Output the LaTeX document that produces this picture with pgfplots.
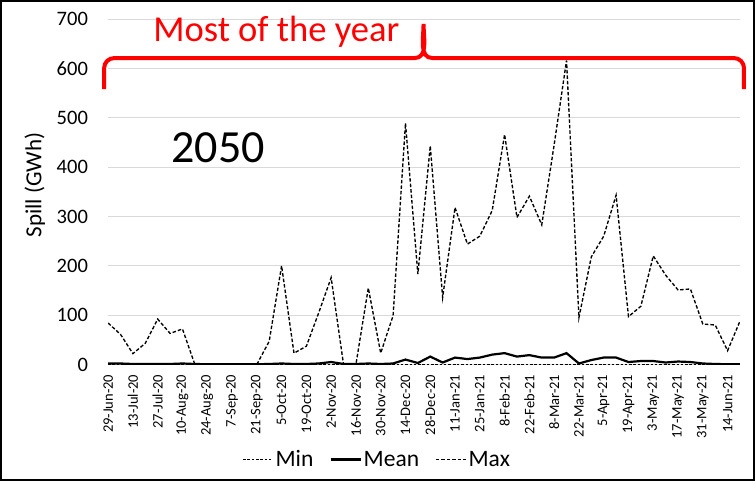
\documentclass[border=0pt]{standalone}
\usepackage{fontspec}
\setmainfont{Carlito}
\usepackage{pgfplots}
\pgfplotsset{compat=1.18}
\definecolor{gridgray}{HTML}{D9D9D9}
\begin{document}
\begin{tikzpicture}
\begin{axis}[
  name=ax, at={(0,0)}, anchor=south west,
  width=631pt, height=345pt, scale only axis,
  xmin=0, xmax=51, ymin=0, ymax=700,
  ytick={0,100,...,700},
  xtick={0,2,...,50},
  xticklabels={29-Jun-20,13-Jul-20,27-Jul-20,10-Aug-20,24-Aug-20,7-Sep-20,21-Sep-20,5-Oct-20,19-Oct-20,2-Nov-20,16-Nov-20,30-Nov-20,14-Dec-20,28-Dec-20,11-Jan-21,25-Jan-21,8-Feb-21,22-Feb-21,8-Mar-21,22-Mar-21,5-Apr-21,19-Apr-21,3-May-21,17-May-21,31-May-21,14-Jun-21},
  /pgf/number format/assume math mode=true,
  major tick length=0pt,
  axis x line=bottom, axis y line=left,
  x axis line style={draw=gridgray, -},
  y axis line style={draw=none},
  ymajorgrids, grid style={gridgray, line width=0.8pt},
  yticklabel style={font=\fontsize{20.5}{20.5}\selectfont, inner sep=0pt, anchor=east},
  yticklabel shift=20pt,
  xticklabel style={font=\fontsize{14.5}{14.5}\selectfont, inner sep=0pt, rotate=90, anchor=east},
  xticklabel shift=10pt,
  ylabel={Spill (GWh)},
  every axis y label/.style={at={(axis description cs:-0.116,0.52)}, rotate=90, anchor=center, font=\fontsize{23}{23}\selectfont},
  legend columns=3,
  legend style={at={(axis description cs:0.426,-0.275)}, anchor=center, draw=none, fill=none,
    font=\fontsize{23.5}{23.5}\selectfont,
    /tikz/every odd column/.append style={column sep=0pt},
    /tikz/every even column/.append style={column sep=14pt}},
  legend image code/.code={\draw[#1] (0pt,0pt) -- (30pt,0pt);},
]
\addplot[black, line width=0.9pt, dash pattern=on 2.5pt off 1.8pt] coordinates {
(0,0)(1,0)(2,0)(3,0)(4,0)(5,0)(6,0)(7,0)(8,0)(9,0)(10,0)(11,0)(12,0)(13,0)(14,0)(15,0)(16,0)(17,0)
(18,0)(19,0)(20,0)(21,0)(22,0)(23,0)(24,0)(25,0)(26,0)(27,0)(28,0)(29,0)(30,0)(31,0)(32,0)(33,0)(34,0)
(35,0)(36,0)(37,0)(38,0)(39,0)(40,0)(41,0)(42,0)(43,0)(44,0)(45,0)(46,0)(47,0)(48,0)(49,0)(50,0)(51,0)
};
\addlegendentry{Min}
\addplot[black, line width=2.2pt] coordinates {
(0,2)(1,2)(2,1)(3,1)(4,1)(5,1)(6,2)(7,1)(8,0.5)(9,0.5)(10,0.5)(11,0.5)(12,0.5)(13,1)(14,2)(15,1)(16,1)
(17,2)(18,5)(19,1)(20,1)(21,2)(22,1)(23,2)(24,10)(25,3)(26,16)(27,4)(28,14)(29,11)(30,14)(31,20)(32,23)
(33,16)(34,19)(35,14)(36,14)(37,23)(38,2)(39,9)(40,14)(41,14)(42,5)(43,7)(44,7)(45,4)(46,6)(47,5)
(48,2)(49,1)(50,0.5)(51,0.5)
};
\addlegendentry{Mean}
\addplot[black, line width=1.35pt, dash pattern=on 3.5pt off 2pt] coordinates {
(0,84)(1,61)(2,22)(3,43)(4,92)(5,63)(6,72)(7,0)(8,0)(9,0)(10,0)(11,0)(12,0)(13,47)(14,200)(15,23)
(16,37)(17,105)(18,176)(19,0)(20,0)(21,155)(22,23)(23,99)(24,489)(25,183)(26,443)(27,136)(28,318)
(29,244)(30,260)(31,312)(32,466)(33,298)(34,341)(35,283)(36,445)(37,616)(38,95)(39,218)(40,260)
(41,343)(42,97)(43,118)(44,220)(45,181)(46,151)(47,153)(48,82)(49,80)(50,28)(51,88)
};
\addlegendentry{Max}
\end{axis}
% chart frame
\draw[black, line width=2pt] (-107pt,-115pt) rectangle (645pt,363pt);
% annotation brace
\draw[red, line width=4pt] (-4pt,275pt) -- (-4pt,296pt) to[out=90,in=180] (6pt,306pt)
  -- (306pt,306pt) to[out=0,in=-90] (315pt,340pt) to[out=-90,in=180] (324pt,306pt)
  -- (625pt,306pt) to[out=0,in=90] (635pt,296pt) -- (635pt,275pt);
\node[anchor=base, red, inner sep=0pt, font=\fontsize{36.5}{36.5}\selectfont] at (168pt,323pt) {Most of the year};
\node[anchor=base, black, inner sep=0pt, font=\fontsize{46}{46}\selectfont] at (110pt,202pt) {2050};
\end{tikzpicture}
\end{document}
